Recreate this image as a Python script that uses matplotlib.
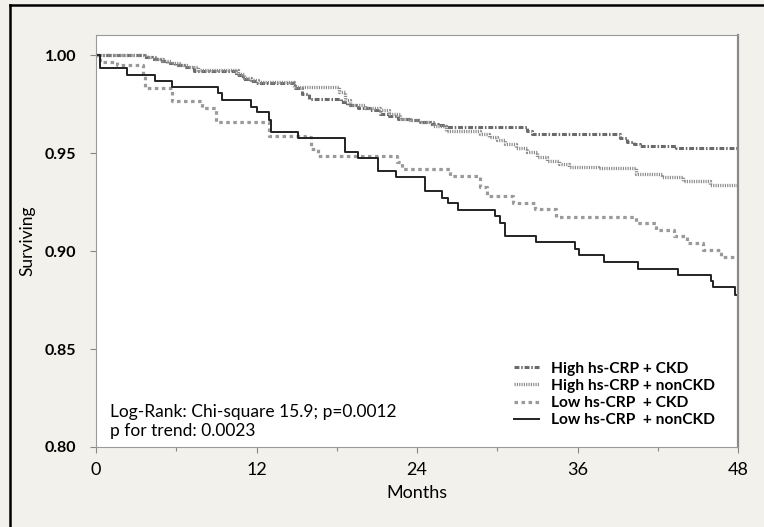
import matplotlib.pyplot as plt
from matplotlib.lines import Line2D

plt.rcParams['font.family'] = ['Lato', 'DejaVu Sans']

# Kaplan-Meier step curves (months, survival)
t_high_ckd = [0, 3.6, 4.2, 4.8, 5.3, 5.9, 6.6, 7.3, 10.5, 11.0, 11.5, 11.9, 14.9, 15.4,
              15.9, 18.3, 18.8, 19.6, 20.5, 21.2, 21.9, 22.6, 23.4, 24.2, 25.0, 25.6,
              26.2, 32.2, 32.6, 39.2, 39.7, 40.2, 40.7, 43.4, 48]
s_high_ckd = [1.0, 0.999, 0.998, 0.997, 0.996, 0.995, 0.994, 0.9918, 0.990, 0.988, 0.987,
              0.986, 0.983, 0.980, 0.9778, 0.976, 0.9744, 0.973, 0.9718, 0.970, 0.969,
              0.9675, 0.967, 0.966, 0.965, 0.9645, 0.9635, 0.9615, 0.9598, 0.9575, 0.9555,
              0.9545, 0.9535, 0.9527, 0.9527]

t_high_non = [0, 3.8, 4.4, 5.0, 5.6, 6.2, 6.9, 7.6, 10.6, 11.1, 11.6, 12.1, 14.8, 18.2,
              18.6, 19.0, 20.1, 21.2, 21.9, 22.7, 23.5, 24.2, 25.2, 26.2, 28.7, 29.4,
              30.0, 30.6, 31.4, 32.2, 33.0, 33.7, 34.6, 35.4, 37.5, 40.4, 42.3, 43.9,
              45.9, 48]
s_high_non = [1.0, 0.9992, 0.9982, 0.9972, 0.9962, 0.9952, 0.9942, 0.9922, 0.9905, 0.9885,
              0.9872, 0.9862, 0.9837, 0.981, 0.977, 0.9744, 0.9730, 0.9718, 0.970, 0.9675,
              0.9668, 0.966, 0.964, 0.9615, 0.9598, 0.958, 0.9565, 0.9547, 0.9525, 0.9504,
              0.948, 0.9462, 0.9445, 0.943, 0.9425, 0.9393, 0.9376, 0.9359, 0.9338, 0.9338]

t_low_ckd = [0, 0.3, 1.6, 3.5, 3.7, 5.7, 7.9, 9.0, 12.9, 15.6, 16.1, 16.6, 22.5, 22.9,
             26.5, 28.7, 29.2, 31.2, 32.8, 34.4, 40.4, 41.9, 43.2, 44.2, 45.4, 46.7, 48]
s_low_ckd = [1.0, 0.9966, 0.9949, 0.9897, 0.983, 0.9764, 0.9728, 0.9658, 0.959, 0.9581,
             0.9522, 0.9487, 0.9455, 0.9419, 0.9385, 0.9325, 0.9282, 0.9245, 0.9214,
             0.9176, 0.9142, 0.9108, 0.9077, 0.904, 0.9005, 0.8971, 0.8971]

t_low_non = [0, 0.3, 2.3, 4.4, 5.7, 9.1, 9.4, 11.6, 12.0, 12.9, 13.1, 15.1, 18.6, 19.6,
             21.1, 22.4, 24.6, 25.9, 26.3, 27.1, 29.8, 30.2, 30.6, 32.9, 35.8, 36.1,
             38.0, 40.5, 43.5, 46.0, 46.1, 47.8, 48]
s_low_non = [1.0, 0.9935, 0.990, 0.987, 0.9837, 0.9807, 0.9773, 0.9738, 0.9708, 0.967,
             0.9607, 0.9578, 0.9508, 0.9475, 0.941, 0.9376, 0.9308, 0.9273, 0.9243, 0.9209,
             0.918, 0.9145, 0.9077, 0.9048, 0.9009, 0.898, 0.8945, 0.8911, 0.888, 0.8846,
             0.8815, 0.8778, 0.8765]

labels = ['High hs-CRP + CKD', 'High hs-CRP + nonCKD',
          'Low hs-CRP  + CKD', 'Low hs-CRP  + nonCKD']
x_ticks = [0, 12, 24, 36, 48]
y_ticks = [0.80, 0.85, 0.90, 0.95, 1.00]

fig = plt.figure(figsize=(7.64, 5.27), dpi=100, facecolor='#f2f1ec')
ax = fig.add_axes([96 / 764, 1 - 447 / 527, 642 / 764, 412 / 527])

ax.step(t_high_ckd, s_high_ckd, where='post', color='#6a6a6a', lw=2.2,
        ls=(0, (1.6, 0.6, 0.5, 0.6)), label=labels[0])
ax.step(t_high_non, s_high_non, where='post', color='#8c8c8c', lw=2.4,
        ls=(0, (0.35, 0.35)), label=labels[1])
ax.step(t_low_ckd, s_low_ckd, where='post', color='#9a9a9a', lw=2.3,
        ls=(0, (1.1, 1.1)), label=labels[2])
ax.step(t_low_non, s_low_non, where='post', color='#222222', lw=1.4,
        label=labels[3])

ax.set_xlim(0, 48)
ax.set_ylim(0.80, 1.0103)
ax.set_xticks(x_ticks)
ax.set_xticks([6, 18, 30, 42], minor=True)
ax.set_xticklabels([str(v) for v in x_ticks], fontsize=13)
ax.set_yticks(y_ticks)
ax.set_yticklabels(['%.2f' % v for v in y_ticks], fontsize=11.5, fontweight='bold')
ax.tick_params(axis='both', which='both', direction='out', color='#888888', width=0.8)
ax.tick_params(axis='x', which='major', length=4, pad=7)
ax.tick_params(axis='x', which='minor', length=3)
ax.tick_params(axis='y', length=4, pad=10)
for side in ['left', 'bottom', 'top']:
    ax.spines[side].set_color('#9a9a9a')
    ax.spines[side].set_linewidth(0.8)
ax.spines['right'].set_color('#8a8a8a')
ax.spines['right'].set_linewidth(1.6)

ax.set_xlabel('Months', fontsize=13, labelpad=5)
ax.set_ylabel('Surviving', fontsize=12.5)
ax.yaxis.set_label_coords(-0.095, 0.5)

ax.text(0.022, 0.062, 'Log-Rank: Chi-square 15.9; p=0.0012\np for trend: 0.0023',
        transform=ax.transAxes, fontsize=12.5, va='center', ha='left', linespacing=1.3)

ax.legend(loc='upper left', bbox_to_anchor=(506 / 764, 1 - 354 / 527),
          bbox_transform=fig.transFigure, frameon=False, handlelength=1.6,
          handletextpad=0.8, labelspacing=0.2, borderpad=0,
          prop={'size': 11.2, 'weight': 'bold'})

# outer frame (left and top edges only)
fig.add_artist(Line2D([10 / 764, 10 / 764], [0, 1 - 5 / 527], color='black', lw=1.8))
fig.add_artist(Line2D([10 / 764, 1], [1 - 5 / 527, 1 - 5 / 527], color='black', lw=1.8))

fig.savefig('out.png', dpi=100, facecolor=fig.get_facecolor())
